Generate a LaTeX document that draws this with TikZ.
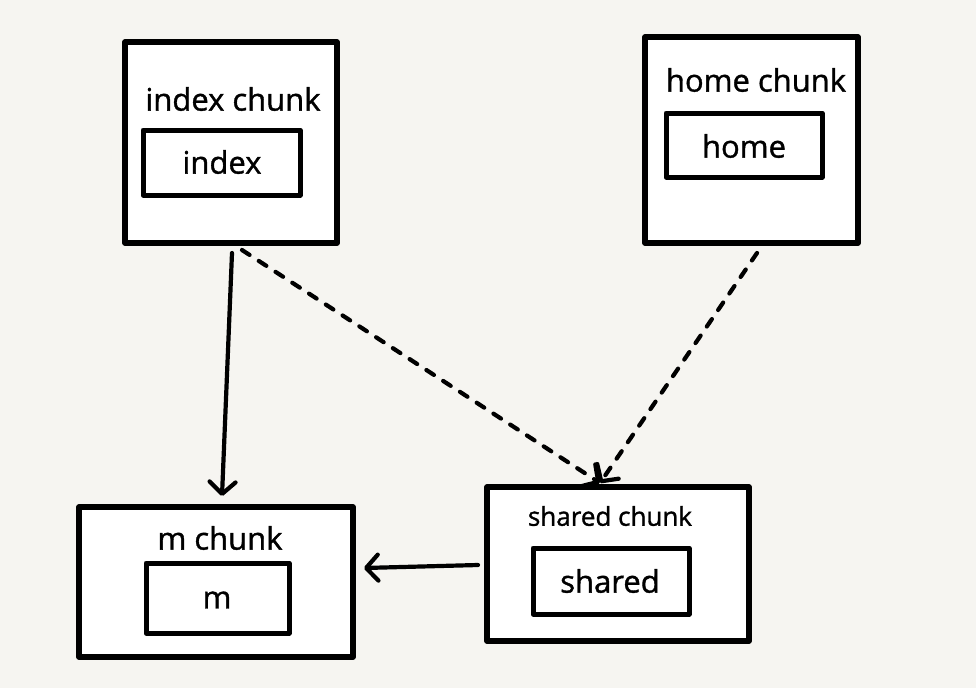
\documentclass[tikz,border=0pt]{standalone}
\usepackage{fontspec}
\setmainfont{Open Sans}[FakeBold=1.2,AutoFakeBold=1.2]
\usetikzlibrary{arrows.meta}
\definecolor{paper}{HTML}{F6F5F1}
\begin{document}
\begin{tikzpicture}[x=1pt,y=-1pt,
  chunk/.style={draw=black,fill=white,line width=5.5pt,line join=round},
  module/.style={draw=black,fill=white,line width=5pt,line join=round},
  label/.style={font=\fontsize{31}{34}\selectfont\bfseries,text=black},
  small/.style={font=\fontsize{26}{30}\selectfont\bfseries,text=black},
  link/.style={line width=4.2pt,line cap=round,-{Straight Barb[length=12pt,width=26pt,line width=4.2pt,round]}},
  dep/.style={link,dash pattern=on 9pt off 11pt}]
\fill[paper] (0,0) rectangle (976,688);
\useasboundingbox (0,0) rectangle (976,688);

% chunk frames
\draw[chunk] (125,42) rectangle (337,243);
\draw[chunk] (645,37) rectangle (858,243);
\draw[chunk] (79,507) rectangle (353,657);
\draw[chunk] (487,487) rectangle (749,641);

% module boxes
\draw[module] (143,130) rectangle (300,195);
\draw[module] (666,113) rectangle (822,177);
\draw[module] (146,563) rectangle (289,633);
\draw[module] (533,548) rectangle (689,614);

% titles
\node[label] (tIndex) at (233,99) {index chunk};
\node[label] (tHome) at (756,80) {home chunk};
\node[label] (tM) at (220,538) {m chunk};
\node[small] (tShared) at (610,516) {shared chunk};

% module names
\node[label] (index) at (222,162) {index};
\node[label] (home) at (744,146) {home};
\node[label] (m) at (217,600) {m};
\node[label] (shared) at (610,581) {shared};

% connector end points
\coordinate (indexOut) at (232,253);
\coordinate (mIn) at (222,496);
\coordinate (indexLazy) at (242,250);
\coordinate (homeLazy) at (757,253);
\coordinate (sharedIn) at (600,483);
\coordinate (sharedOut) at (478,565);
\coordinate (mSide) at (364,568);

\draw[link] (indexOut) -- (mIn);
\draw[link] (sharedOut) -- (mSide);
\draw[dep] (indexLazy) -- (sharedIn);
\draw[dep] (homeLazy) -- (sharedIn);
\end{tikzpicture}
\end{document}
